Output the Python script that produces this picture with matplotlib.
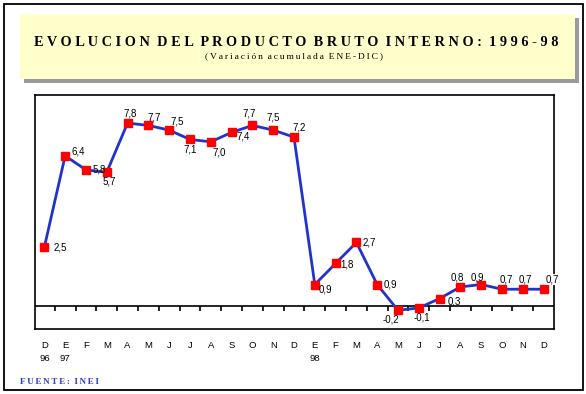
import numpy as np
import matplotlib
matplotlib.use("Agg")
from matplotlib import pyplot as plt
from matplotlib.patches import Rectangle

# data (variacion acumulada, %)
months = ["D", "E", "F", "M", "A", "M", "J", "J", "A", "S", "O", "N", "D",
          "E", "F", "M", "A", "M", "J", "J", "A", "S", "O", "N", "D"]
years = {0: "96", 1: "97", 13: "98"}
pbi = [2.5, 6.4, 5.8, 5.7, 7.8, 7.7, 7.5, 7.1, 7.0, 7.4, 7.7, 7.5, 7.2,
       0.9, 1.8, 2.7, 0.9, -0.2, -0.1, 0.3, 0.8, 0.9, 0.7, 0.7, 0.7]

title = "EVOLUCION DEL PRODUCTO BRUTO INTERNO: 1996-98"
subtitle = "(Variación acumulada ENE-DIC)"
source = "FUENTE: INEI"

# label offsets in pixels (dx, dy, ha)
label_pos = [(9, 0, "left"), (6, 4, "left"), (7, 0, "left"), (2, -9, "center"),
             (3, 10, "center"), (6, 8, "center"), (8, 9, "center"), (0, -10, "center"),
             (8, -11, "center"), (5, -4, "left"), (-3, 12, "center"), (0, 13, "center"),
             (5, 10, "center"),
             (4, -5, "left"), (5, -1, "left"), (6, 0, "left"), (6, 0, "left"),
             (-7, -9, "center"), (3, -10, "center"), (8, -3, "left"), (-3, 9, "center"),
             (-4, 7, "center"), (4, 10, "center"), (3, 10, "center"), (9, 10, "center")]

W, H = 586, 394


def fx(x):
    return x / W


def fy(y):
    return 1 - y / H


def spread(s, sep=" ", gap="  "):
    # fake letter spacing like the original gif
    return gap.join(sep.join(w) for w in s.split(" "))


fig = plt.figure(figsize=(W / 100, H / 100), dpi=100)
fig.patch.set_facecolor("white")

# outer border
fig.patches.append(Rectangle((fx(4), fy(390)), (583 - 4) / W, (390 - 4) / H,
                             transform=fig.transFigure, fill=False, ec="black", lw=1.3))
# title box with shadow
fig.patches.append(Rectangle((fx(24), fy(83)), (579 - 24) / W, (83 - 18) / H,
                             transform=fig.transFigure, fc="#9a9a9a", ec="none"))
fig.patches.append(Rectangle((fx(20), fy(79)), (575 - 20) / W, (79 - 14) / H,
                             transform=fig.transFigure, fc="#ffffcc", ec="none"))

fig.text(fx(296), fy(42), spread(title), ha="center", va="center",
         fontsize=10.3, fontweight="bold", family="Liberation Serif")
fig.text(fx(294), fy(56), spread(subtitle, "\u2009", "  "), ha="center", va="center",
         fontsize=6.8, family="Liberation Serif")
fig.text(fx(20), fy(382), spread(source, "\u2009", "  "), ha="left", va="center",
         fontsize=6.5, fontweight="bold", family="Liberation Serif", color="#2b3bc4")

ax = fig.add_axes([fx(35), fy(329), (554 - 35) / W, (329 - 95) / H])
x = np.arange(len(pbi))
ax.plot(x, pbi, color="#2233cc", lw=2, zorder=3)
ax.plot(x, pbi, ls="none", marker="s", ms=5.5, color="#ff0000", zorder=4)

ax.axhline(0, color="black", lw=1.2, zorder=2)
ax.vlines(x[:-1] + 0.5, -0.22, 0, color="black", lw=1.2, zorder=2)

for i, v in enumerate(pbi):
    dx, dy, ha = label_pos[i]
    t = ax.annotate(f"{v:.1f}".replace(".", ","), (i, v), xytext=(dx, dy),
                    textcoords="offset pixels", ha=ha, va="center",
                    fontsize=7, family="Liberation Sans", zorder=5)
    if i == len(pbi) - 1:
        t.set_bbox(dict(fc="white", ec="none", pad=0.5))
        t.set_clip_on(False)

ax.set_xlim(-0.45, 24.5)
ax.set_ylim(-1, 9)
ax.set_yticks([])
labels = [m + ("\n" + years[i] if i in years else "") for i, m in enumerate(months)]
ax.set_xticks(x)
ax.set_xticklabels(labels, fontsize=6.8, family="Liberation Sans", va="top")
for lab in ax.get_xticklabels():
    lab.set_linespacing(1.5)
ax.tick_params(axis="x", length=0, pad=9)
for sp in ax.spines.values():
    sp.set_linewidth(1.2)

fig.savefig("out.png", dpi=100)
